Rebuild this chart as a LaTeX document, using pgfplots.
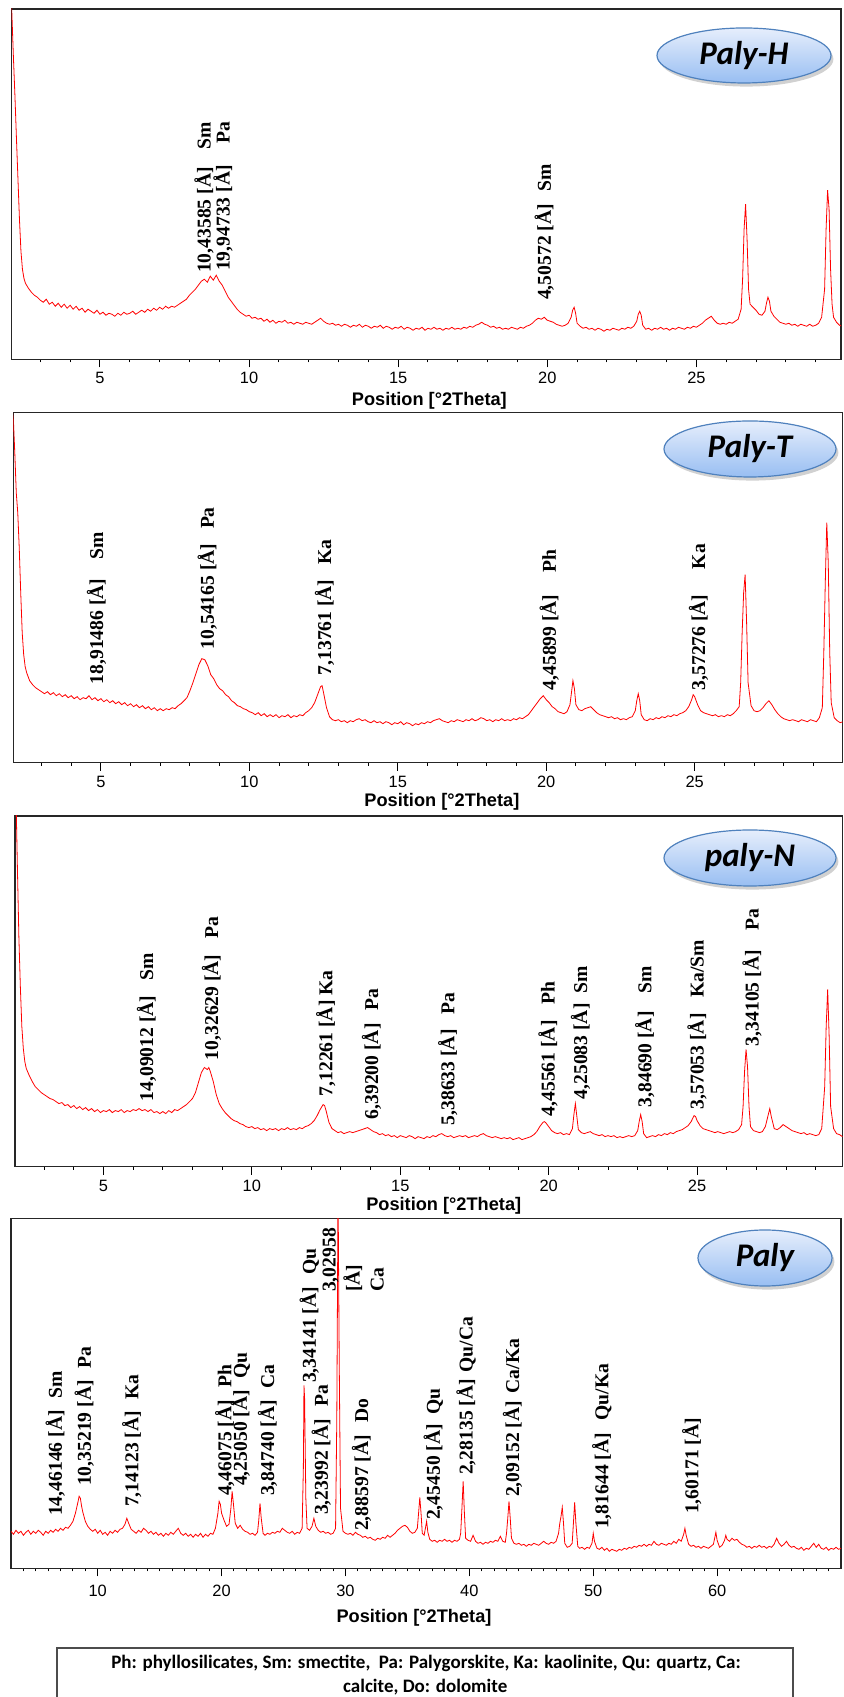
\documentclass[border=0pt]{standalone}
\usepackage{fontspec}
\setmainfont{Liberation Serif}
\newfontfamily\axfont{Liberation Sans}
\newfontfamily\calib{Carlito}
\usepackage{pgfplots}
\pgfplotsset{compat=1.18}
\usetikzlibrary{shadows}

\definecolor{tagline}{RGB}{79,129,189}
\definecolor{tagtop}{RGB}{230,238,252}
\definecolor{tagbot}{RGB}{152,190,242}

% common look of the four diffractograms
\pgfplotsset{xrd/.style={
  scale only axis, anchor=south west,
  ymin=0, ymax=350, ytick=\empty,
  axis line style={black!85, line width=0.7pt},
  tick align=outside, xtick pos=left,
  major tick length=4pt, minor tick length=1.6pt,
  tick style={black, line width=0.5pt},
  /pgf/number format/assume math mode=true,
  xticklabel style={font=\axfont\fontsize{8.2}{9}\selectfont, anchor=center, yshift=-5.5pt},
  xlabel={Position [°2Theta]},
  xlabel style={font=\axfont\bfseries\fontsize{9.1}{10}\selectfont, at={(axis description cs:0.5,0)}, anchor=center},
  cycle list={{red, line width=0.6pt, mark=none}},
}}

% rotated d-spacing annotation
\newcommand\pk[3]{\node[rotate=90, anchor=west, inner sep=0pt, font=\bfseries\fontsize{9.8}{12}\selectfont] at (axis cs:#1,#2) {#3};}
% sample name in a shaded ellipse
\newcommand\sampletag[5]{%
  \path[drop shadow={shadow xshift=1.2pt, shadow yshift=-1.8pt, opacity=0.3, fill=black!60},
        top color=tagtop, bottom color=tagbot, draw=tagline, line width=0.6pt]
        (#1,#2) ellipse [x radius=#3, y radius=#4];
  \node[font=\calib\bfseries\itshape\fontsize{16.5}{16.5}\selectfont] at (#1,#2) {#5};}

\begin{document}
\begin{tikzpicture}
\path[use as bounding box] (0,0) rectangle (421.5pt,848.5pt);

% ---------------- Paly-H ----------------
\begin{axis}[xrd, at={(5.85pt,668.85pt)}, width=414.65pt, height=175.15pt,
  xmin=2.04, xmax=29.85, xtick={5,10,15,20,25}, minor xtick={3,4,...,29},
  xlabel style={yshift=-21pt, xshift=1.5pt}]
\addplot coordinates {
(2.0,360) (2.04,350) (2.1,300) (2.15,262) (2.2,220) (2.25,180) (2.3,140) (2.35,108) (2.4,90) (2.45,81) (2.5,76) (2.6,71) (2.7,67) (2.8,64) (2.9,62)
(3.0,59) (3.1,57) (3.2,60) (3.3,55) (3.4,57) (3.5,53) (3.6,56) (3.7,52) (3.8,55) (3.9,51) (4.0,54) (4.1,50) (4.2,53) (4.3,49) (4.4,51) (4.5,47) (4.6,50) (4.7,48) (4.8,46) (4.9,49)
(5.0,45) (5.1,47) (5.2,44) (5.3,46) (5.4,45) (5.5,43) (5.6,46) (5.7,44) (5.8,47) (5.9,45) (6.0,46) (6.1,48) (6.2,45) (6.3,47) (6.4,49) (6.5,47) (6.6,50) (6.7,48) (6.8,51) (6.9,49)
(7.0,52) (7.1,50) (7.2,53) (7.3,51) (7.4,53) (7.5,52) (7.6,54) (7.7,56) (7.8,58) (7.9,60) (8.0,64) (8.1,67) (8.2,70) (8.3,74) (8.4,78) (8.5,80) (8.6,77) (8.7,83) (8.8,79) (8.9,84)
(9.0,78) (9.1,74) (9.2,68) (9.3,62) (9.4,58) (9.5,54) (9.6,50) (9.7,47) (9.8,45) (9.9,43) (10.0,44) (10.1,41) (10.2,42) (10.3,40) (10.4,41) (10.5,38) (10.6,40) (10.7,37) (10.8,39) (10.9,36)
(11.0,38) (11.1,37) (11.2,39) (11.3,36) (11.4,37) (11.5,35) (11.6,37) (11.7,36) (11.8,35) (11.9,37) (12.0,36) (12.1,35) (12.2,37) (12.3,39) (12.4,41) (12.5,38) (12.6,36) (12.7,35) (12.8,36) (12.9,34)
(13.0,35) (13.1,33) (13.2,35) (13.3,34) (13.4,32) (13.5,34) (13.6,33) (13.7,35) (13.8,32) (13.9,34) (14.0,33) (14.1,31) (14.2,33) (14.3,32) (14.4,34) (14.5,31) (14.6,33) (14.7,32) (14.8,30) (14.9,32)
(15.0,31) (15.1,33) (15.2,30) (15.3,32) (15.4,31) (15.5,29) (15.6,31) (15.7,30) (15.8,32) (15.9,29) (16.0,31) (16.1,30) (16.2,32) (16.3,30) (16.4,31) (16.5,29) (16.6,31) (16.7,30) (16.8,32) (16.9,30)
(17.0,31) (17.1,30) (17.2,32) (17.3,31) (17.4,33) (17.5,32) (17.6,34) (17.7,35) (17.8,37) (17.9,35) (18.0,34) (18.1,32) (18.2,33) (18.3,31) (18.4,32) (18.5,30) (18.6,31) (18.7,30) (18.8,32) (18.9,31)
(19.0,30) (19.1,32) (19.2,31) (19.3,33) (19.4,34) (19.5,36) (19.6,39) (19.7,41) (19.8,40) (19.9,42) (20.0,39) (20.1,38) (20.2,37) (20.3,35) (20.4,34) (20.5,33) (20.6,34) (20.7,36) (20.8,42) (20.85,49) (20.9,52) (20.95,46)
(21.0,36) (21.1,33) (21.2,31) (21.3,32) (21.4,30) (21.5,31) (21.6,29) (21.7,31) (21.8,30) (21.9,28) (22.0,30) (22.1,29) (22.2,31) (22.3,30) (22.4,29) (22.5,31) (22.6,30) (22.7,32) (22.8,31) (22.9,33)
(23.0,38) (23.05,45) (23.1,48) (23.15,44) (23.2,34) (23.3,30) (23.4,31) (23.5,29) (23.6,31) (23.7,30) (23.8,32) (23.9,30) (24.0,31) (24.1,29) (24.2,31) (24.3,30) (24.4,32) (24.5,31) (24.6,30) (24.7,32) (24.8,31) (24.9,33)
(25.0,32) (25.1,34) (25.2,36) (25.3,39) (25.4,41) (25.5,43) (25.6,39) (25.7,36) (25.8,35) (25.9,36) (26.0,35) (26.1,37) (26.2,36) (26.3,38) (26.4,40) (26.5,50) (26.55,80) (26.6,130) (26.65,155) (26.7,120) (26.75,70) (26.8,55) (26.9,52)
(27.0,49) (27.1,45) (27.2,44) (27.3,48) (27.35,56) (27.4,62) (27.45,58) (27.5,48) (27.6,43) (27.7,40) (27.8,37) (27.9,36) (28.0,35) (28.1,36) (28.2,34) (28.3,35) (28.4,33) (28.5,35) (28.6,34) (28.7,33) (28.8,35) (28.9,33)
(29.0,34) (29.1,36) (29.2,42) (29.3,70) (29.35,130) (29.4,169) (29.45,150) (29.5,90) (29.55,55) (29.6,42) (29.7,37) (29.8,34) (29.9,33)
};
\pk{8.49}{86}{10,43585 [Å]\hspace{0.9em}Sm}
\pk{9.13}{88}{19,94733 [Å]\hspace{1.1em}Pa}
\pk{19.9}{59}{4,50572 [Å]\hspace{0.65em}Sm}
\end{axis}

% ---------------- Paly-T ----------------
\begin{axis}[xrd, at={(6.65pt,467.15pt)}, width=414.6pt, height=175pt,
  xmin=2.05, xmax=29.98, xtick={5,10,15,20,25}, minor xtick={3,4,...,29},
  xlabel style={yshift=-19.5pt, xshift=7pt}]
\addplot coordinates {
(2.0,360) (2.05,345) (2.1,310) (2.15,270) (2.2,250) (2.25,215) (2.3,170) (2.35,130) (2.4,108) (2.45,96) (2.5,90) (2.6,82) (2.7,78) (2.8,75) (2.9,73)
(3.0,71) (3.1,69) (3.2,71) (3.3,68) (3.4,70) (3.5,67) (3.6,69) (3.7,66) (3.8,68) (3.9,65) (4.0,67) (4.1,64) (4.2,66) (4.3,63) (4.4,65) (4.5,64) (4.6,67) (4.7,63) (4.8,65) (4.9,62)
(5.0,64) (5.1,61) (5.2,63) (5.3,60) (5.4,62) (5.5,59) (5.6,61) (5.7,58) (5.8,60) (5.9,57) (6.0,59) (6.1,56) (6.2,58) (6.3,55) (6.4,57) (6.5,54) (6.6,56) (6.7,53) (6.8,55) (6.9,52)
(7.0,54) (7.1,52) (7.2,54) (7.3,53) (7.4,55) (7.5,54) (7.6,57) (7.7,59) (7.8,62) (7.9,65) (8.0,72) (8.1,80) (8.2,89) (8.3,98) (8.4,104) (8.5,103) (8.6,97) (8.7,88) (8.8,84) (8.9,78)
(9.0,74) (9.1,72) (9.2,68) (9.3,66) (9.4,62) (9.5,60) (9.6,57) (9.7,56) (9.8,54) (9.9,53) (10.0,51) (10.1,50) (10.2,48) (10.3,50) (10.4,47) (10.5,49) (10.6,46) (10.7,48) (10.8,46) (10.9,48)
(11.0,45) (11.1,47) (11.2,46) (11.3,48) (11.4,45) (11.5,47) (11.6,46) (11.7,48) (11.8,47) (11.9,50) (12.0,52) (12.1,55) (12.2,60) (12.3,68) (12.4,76) (12.45,77) (12.5,70) (12.6,55) (12.7,46) (12.8,43) (12.9,42)
(13.0,43) (13.1,41) (13.2,42) (13.3,40) (13.4,42) (13.5,41) (13.6,43) (13.7,44) (13.8,42) (13.9,43) (14.0,41) (14.1,40) (14.2,42) (14.3,40) (14.4,41) (14.5,39) (14.6,41) (14.7,40) (14.8,38) (14.9,40)
(15.0,39) (15.1,41) (15.2,38) (15.3,40) (15.4,39) (15.5,37) (15.6,39) (15.7,38) (15.8,40) (15.9,39) (16.0,41) (16.1,40) (16.2,42) (16.3,43) (16.4,44) (16.5,42) (16.6,41) (16.7,40) (16.8,42) (16.9,41)
(17.0,43) (17.1,42) (17.2,41) (17.3,43) (17.4,42) (17.5,44) (17.6,42) (17.7,43) (17.8,45) (17.9,44) (18.0,42) (18.1,43) (18.2,41) (18.3,43) (18.4,42) (18.5,44) (18.6,42) (18.7,43) (18.8,42) (18.9,44)
(19.0,43) (19.1,45) (19.2,44) (19.3,46) (19.4,48) (19.5,52) (19.6,56) (19.7,60) (19.8,64) (19.9,67) (20.0,63) (20.1,60) (20.2,56) (20.3,54) (20.4,51) (20.5,50) (20.6,49) (20.7,51) (20.8,58) (20.85,70) (20.9,82) (20.95,74)
(21.0,58) (21.1,53) (21.2,52) (21.3,54) (21.4,55) (21.5,56) (21.6,53) (21.7,50) (21.8,48) (21.9,47) (22.0,46) (22.1,45) (22.2,46) (22.3,44) (22.4,45) (22.5,43) (22.6,44) (22.7,43) (22.8,45) (22.9,46)
(23.0,52) (23.05,62) (23.1,69) (23.15,62) (23.2,48) (23.3,43) (23.4,42) (23.5,44) (23.6,43) (23.7,45) (23.8,44) (23.9,46) (24.0,45) (24.1,47) (24.2,46) (24.3,48) (24.4,47) (24.5,49) (24.6,50) (24.7,52) (24.8,56) (24.9,63) (24.95,68)
(25.0,66) (25.1,58) (25.2,52) (25.3,50) (25.4,49) (25.5,48) (25.6,47) (25.7,48) (25.8,46) (25.9,47) (26.0,46) (26.1,48) (26.2,47) (26.3,49) (26.4,52) (26.5,56) (26.55,80) (26.6,130) (26.65,170) (26.7,188) (26.75,140) (26.8,80) (26.9,57)
(27.0,52) (27.1,51) (27.2,52) (27.3,55) (27.4,59) (27.5,62) (27.6,58) (27.7,53) (27.8,49) (27.9,46) (28.0,44) (28.1,43) (28.2,42) (28.3,43) (28.4,42) (28.5,41) (28.6,43) (28.7,42) (28.8,41) (28.9,43)
(29.0,42) (29.1,41) (29.2,45) (29.3,55) (29.35,110) (29.4,180) (29.45,240) (29.5,200) (29.55,110) (29.6,60) (29.7,45) (29.8,42) (29.9,40) (30.0,41)
};
\pk{4.85}{78}{18,91486 [Å]\hspace{1em}Sm}
\pk{8.58}{113}{10,54165 [Å]\hspace{0.75em}Pa}
\pk{12.53}{87}{7,13761 [Å]\hspace{0.75em}Ka}
\pk{20.1}{72}{4,45899 [Å]\hspace{1.1em}Ph}
\pk{25.13}{72}{3,57276 [Å]\hspace{1.3em}Ka}
\end{axis}

% ---------------- paly-N ----------------
\begin{axis}[xrd, at={(7.5pt,265.15pt)}, width=413.75pt, height=175.35pt,
  xmin=2.02, xmax=29.9, xtick={5,10,15,20,25}, minor xtick={3,4,...,29},
  xlabel style={yshift=-19.5pt, xshift=7.5pt}]
\addplot coordinates {
(2.0,370) (2.06,360) (2.1,300) (2.15,230) (2.2,180) (2.25,140) (2.3,118) (2.35,105) (2.4,98) (2.5,91) (2.6,85) (2.7,80) (2.8,77) (2.9,74)
(3.0,72) (3.1,70) (3.2,68) (3.3,67) (3.4,65) (3.5,63) (3.6,64) (3.7,61) (3.8,62) (3.9,59) (4.0,61) (4.1,58) (4.2,60) (4.3,57) (4.4,59) (4.5,56) (4.6,58) (4.7,55) (4.8,57) (4.9,54)
(5.0,56) (5.1,55) (5.2,57) (5.3,54) (5.4,56) (5.5,55) (5.6,57) (5.7,54) (5.8,56) (5.9,55) (6.0,57) (6.1,56) (6.2,58) (6.3,56) (6.4,57) (6.5,55) (6.6,57) (6.7,54) (6.8,55) (6.9,53)
(7.0,55) (7.1,53) (7.2,56) (7.3,54) (7.4,57) (7.5,56) (7.6,58) (7.7,60) (7.8,62) (7.9,65) (8.0,68) (8.1,74) (8.2,84) (8.3,94) (8.4,99) (8.5,97) (8.55,99) (8.6,95) (8.7,85) (8.8,72) (8.9,63)
(9.0,58) (9.1,54) (9.2,51) (9.3,48) (9.4,46) (9.5,45) (9.6,43) (9.7,42) (9.8,40) (9.9,39) (10.0,40) (10.1,38) (10.2,39) (10.3,37) (10.4,38) (10.5,36) (10.6,38) (10.7,37) (10.8,38) (10.9,36)
(11.0,38) (11.1,37) (11.2,39) (11.3,37) (11.4,38) (11.5,37) (11.6,39) (11.7,38) (11.8,40) (11.9,41) (12.0,43) (12.1,46) (12.2,51) (12.3,57) (12.4,62) (12.45,61) (12.5,56) (12.6,44) (12.7,38) (12.8,36) (12.9,34)
(13.0,35) (13.1,33) (13.2,34) (13.3,35) (13.4,34) (13.5,35) (13.6,36) (13.7,37) (13.8,38) (13.9,39) (14.0,37) (14.1,35) (14.2,34) (14.3,32) (14.4,33) (14.5,31) (14.6,32) (14.7,30) (14.8,31) (14.9,29)
(15.0,31) (15.1,30) (15.2,29) (15.3,31) (15.4,30) (15.5,28) (15.6,30) (15.7,29) (15.8,28) (15.9,30) (16.0,29) (16.1,31) (16.2,30) (16.3,32) (16.4,33) (16.5,31) (16.6,30) (16.7,31) (16.8,29) (16.9,30)
(17.0,31) (17.1,30) (17.2,31) (17.3,29) (17.4,30) (17.5,31) (17.6,30) (17.7,32) (17.8,33) (17.9,31) (18.0,30) (18.1,29) (18.2,30) (18.3,29) (18.4,28) (18.5,29) (18.6,28) (18.7,29) (18.8,27) (18.9,28)
(19.0,29) (19.1,27) (19.2,28) (19.3,29) (19.4,30) (19.5,32) (19.6,35) (19.7,40) (19.8,44) (19.85,45) (19.9,44) (20.0,40) (20.1,36) (20.2,34) (20.3,33) (20.4,34) (20.5,32) (20.6,33) (20.7,32) (20.8,38) (20.85,52) (20.9,63) (20.95,50)
(21.0,37) (21.1,34) (21.2,33) (21.3,34) (21.4,35) (21.5,33) (21.6,32) (21.7,31) (21.8,32) (21.9,30) (22.0,31) (22.1,30) (22.2,31) (22.3,29) (22.4,30) (22.5,29) (22.6,30) (22.7,31) (22.8,30) (22.9,31)
(23.0,36) (23.05,45) (23.1,52) (23.15,45) (23.2,33) (23.3,29) (23.4,30) (23.5,31) (23.6,30) (23.7,32) (23.8,31) (23.9,33) (24.0,32) (24.1,34) (24.2,33) (24.3,35) (24.4,36) (24.5,37) (24.6,39) (24.7,41) (24.8,45) (24.9,51) (24.95,50)
(25.0,46) (25.1,41) (25.2,38) (25.3,37) (25.4,36) (25.5,35) (25.6,34) (25.7,35) (25.8,34) (25.9,33) (26.0,34) (26.1,35) (26.2,34) (26.3,35) (26.4,37) (26.5,42) (26.55,60) (26.6,95) (26.65,117) (26.7,100) (26.75,60) (26.8,40) (26.9,36)
(27.0,35) (27.1,34) (27.2,35) (27.3,40) (27.4,52) (27.45,58) (27.5,50) (27.6,38) (27.7,37) (27.8,39) (27.9,42) (28.0,40) (28.1,38) (28.2,36) (28.3,35) (28.4,34) (28.5,33) (28.6,34) (28.7,32) (28.8,33) (28.9,32)
(29.0,31) (29.1,32) (29.2,38) (29.3,80) (29.35,140) (29.4,177) (29.45,130) (29.5,60) (29.6,38) (29.7,33) (29.8,32) (29.9,30)
};
\pk{6.45}{65}{14,09012 [Å]\hspace{0.75em}Sm}
\pk{8.64}{106}{10,32629 [Å]\hspace{0.8em}Pa}
\pk{12.49}{70}{7,12261 [Å] Ka}
\pk{14.03}{47}{6,39200 [Å]\hspace{0.65em}Pa}
\pk{16.6}{41}{5,38633 [Å]\hspace{0.75em}Pa}
\pk{19.98}{50}{4,45561 [Å]\hspace{0.8em}Ph}
\pk{21.07}{67}{4,25083 [Å]\hspace{0.5em}Sm}
\pk{23.24}{59}{3,84690 [Å]\hspace{0.9em}Sm}
\pk{25.0}{57}{3,57053 [Å]\hspace{0.8em}Ka/Sm}
\pk{26.85}{120}{3,34105 [Å]\hspace{1em}Pa}
\end{axis}

% ---------------- Paly (bulk) ----------------
\begin{axis}[xrd, at={(5.5pt,64.35pt)}, width=415pt, height=175pt,
  xmin=3, xmax=70, xtick={10,20,...,60}, minor xtick={4,5,...,69},
  xticklabel style={yshift=-1.85pt},
  xlabel style={yshift=-24.5pt, xshift=-6pt}]
\addplot coordinates {
(3.0,37) (3.2,34) (3.4,38) (3.6,35) (3.8,37) (4.0,33) (4.2,36) (4.4,38) (4.6,34) (4.8,37) (5.0,35) (5.2,38) (5.4,36) (5.6,33) (5.8,37) (6.0,35) (6.2,38) (6.4,36) (6.6,39) (6.8,37)
(7.0,40) (7.2,38) (7.4,41) (7.6,40) (7.8,43) (8.0,47) (8.2,55) (8.4,66) (8.5,72) (8.6,70) (8.7,62) (8.8,56) (9.0,47) (9.2,42) (9.4,39) (9.6,37) (9.8,39)
(10.0,35) (10.2,38) (10.4,34) (10.6,36) (10.8,33) (11.0,37) (11.2,35) (11.4,38) (11.6,36) (11.8,39) (12.0,40) (12.2,44) (12.35,50) (12.5,45) (12.7,39) (12.9,37)
(13.1,35) (13.3,38) (13.5,36) (13.7,40) (13.9,38) (14.1,35) (14.3,37) (14.5,34) (14.7,36) (14.9,33) (15.1,35) (15.3,32) (15.5,35) (15.7,33) (15.9,36) (16.1,34) (16.3,37) (16.5,40) (16.7,35) (16.9,33)
(17.1,35) (17.3,32) (17.5,34) (17.7,31) (17.9,34) (18.1,32) (18.3,35) (18.5,31) (18.7,34) (18.9,32) (19.1,35) (19.3,34) (19.5,40) (19.7,55) (19.8,67) (19.9,64) (20.0,55) (20.2,48) (20.4,42) (20.6,44)
(20.75,60) (20.85,77) (20.95,65) (21.1,45) (21.3,40) (21.5,43) (21.7,39) (21.9,37) (22.1,36) (22.3,34) (22.5,35) (22.7,33) (22.9,36) (23.0,48) (23.1,65) (23.2,50) (23.35,35) (23.5,33) (23.7,35) (23.9,34)
(24.1,36) (24.3,35) (24.5,37) (24.7,36) (24.9,40) (25.1,38) (25.3,36) (25.5,35) (25.7,37) (25.9,34) (26.1,36) (26.3,35) (26.5,40) (26.6,100) (26.65,183) (26.7,170) (26.8,70) (26.9,40)
(27.1,38) (27.3,42) (27.45,50) (27.6,42) (27.8,38) (28.0,36) (28.2,37) (28.4,35) (28.6,36) (28.8,34) (29.0,35) (29.2,40) (29.3,150) (29.4,380) (29.5,200) (29.6,60) (29.8,37)
(30.0,35) (30.2,34) (30.4,35) (30.6,33) (30.8,36) (31.0,34) (31.2,33) (31.4,31) (31.6,32) (31.8,30) (32.0,31) (32.2,29) (32.4,28) (32.6,30) (32.8,29) (33.0,31) (33.2,30) (33.4,33) (33.6,31) (33.8,33)
(34.0,35) (34.2,38) (34.4,40) (34.6,42) (34.8,43) (35.0,41) (35.2,37) (35.4,35) (35.6,36) (35.8,40) (35.9,55) (36.0,71) (36.1,55) (36.2,35) (36.35,33) (36.45,40) (36.55,47) (36.65,36) (36.8,29)
(37.0,27) (37.2,28) (37.4,26) (37.6,28) (37.8,27) (38.0,29) (38.2,27) (38.4,28) (38.6,26) (38.8,28) (39.0,27) (39.2,29) (39.3,35) (39.4,60) (39.5,87) (39.6,55) (39.7,30) (39.9,28)
(40.1,27) (40.3,33) (40.5,27) (40.7,25) (40.9,26) (41.1,24) (41.3,26) (41.5,25) (41.7,27) (41.9,26) (42.1,28) (42.3,27) (42.5,32) (42.7,27) (42.9,26) (43.0,35) (43.1,50) (43.2,67) (43.3,50) (43.4,30)
(43.6,25) (43.8,24) (44.0,25) (44.2,23) (44.4,24) (44.6,22) (44.8,24) (45.0,23) (45.2,25) (45.4,24) (45.6,23) (45.8,25) (46.0,27) (46.2,25) (46.4,24) (46.6,26) (46.8,25) (47.0,27) (47.2,35) (47.3,45)
(47.4,52) (47.5,61) (47.6,45) (47.7,25) (47.9,21) (48.1,22) (48.3,25) (48.4,45) (48.5,66) (48.6,45) (48.75,22) (48.9,20) (49.1,21) (49.3,19) (49.5,21) (49.7,20) (49.9,25) (50.0,35) (50.1,27) (50.3,20)
(50.5,19) (50.7,21) (50.9,18) (51.1,20) (51.3,17) (51.5,19) (51.7,18) (51.9,17) (52.1,19) (52.3,18) (52.5,20) (52.7,19) (52.9,21) (53.1,20) (53.3,22) (53.5,21) (53.7,23) (53.9,22) (54.1,24) (54.3,22)
(54.5,24) (54.7,23) (54.9,27) (55.1,24) (55.3,23) (55.5,25) (55.7,24) (55.9,23) (56.1,25) (56.3,24) (56.5,27) (56.7,25) (56.9,29) (57.1,27) (57.3,34) (57.4,40) (57.5,33) (57.7,24) (57.9,22) (58.1,23)
(58.3,21) (58.5,22) (58.7,20) (58.9,22) (59.1,21) (59.3,20) (59.5,22) (59.7,24) (59.8,30) (59.9,36) (60.0,28) (60.2,21) (60.4,23) (60.6,28) (60.7,33) (60.8,29) (61.0,27) (61.2,30) (61.4,28) (61.6,29)
(61.8,26) (62.0,24) (62.2,23) (62.4,21) (62.6,22) (62.8,20) (63.0,22) (63.2,21) (63.4,23) (63.6,21) (63.8,22) (64.0,20) (64.2,22) (64.4,21) (64.6,24) (64.8,30) (65.0,25) (65.2,22) (65.4,24) (65.6,27)
(65.8,23) (66.0,21) (66.2,22) (66.4,20) (66.6,19) (66.8,21) (67.0,18) (67.2,20) (67.4,19) (67.6,22) (67.8,25) (68.0,21) (68.2,24) (68.4,20) (68.6,19) (68.8,21) (69.0,18) (69.2,20) (69.4,19) (69.6,21) (69.8,19) (70.0,20)
};
\pk{6.57}{52}{14,46146 [Å]\hspace{0.6em}Sm}
\pk{8.91}{82}{10,35219 [Å]\hspace{0.6em}Pa}
\pk{12.74}{61}{7,14123 [Å]\hspace{0.6em}Ka}
\pk{20.26}{72}{4,46075 [Å]\hspace{0.65em}Ph}
\pk{21.52}{82}{4,25050 [Å]\hspace{0.6em}Qu}
\pk{23.7}{72}{3,84740 [Å]\hspace{0.6em}Ca}
\pk{27.09}{185}{3,34141 [Å]\hspace{0.65em}Qu}
\pk{28.04}{53}{3,23992 [Å]\hspace{0.65em}Pa}
\node[rotate=90, anchor=west, inner sep=0pt, align=left, font=\bfseries\fontsize{9.8}{12}\selectfont] at (axis cs:30.63,276) {3,02958\\{[Å]}\\Ca};
\pk{31.3}{37}{2,88597 [Å]\hspace{0.65em}Do}
\pk{37.09}{48}{2,45450 [Å]\hspace{0.5em}Qu}
\pk{39.74}{93}{2,28135 [Å]\hspace{0.35em}Qu/Ca}
\pk{43.48}{71}{2,09152 [Å]\hspace{0.4em}Ca/Ka}
\pk{50.7}{39}{1,81644 [Å]\hspace{0.65em}Qu/Ka}
\pk{57.96}{54}{1,60171 [Å]}
\end{axis}

% sample names
\sampletag{372pt}{820.75pt}{43.5pt}{13.75pt}{Paly-H}
\sampletag{375pt}{624pt}{43pt}{14pt}{Paly-T}
\sampletag{375pt}{419.5pt}{43pt}{14pt}{paly-N}
\sampletag{382.5pt}{219.5pt}{33.5pt}{14pt}{Paly}

% key to the mineral abbreviations
\draw[black!70, line width=0.6pt] (28.5pt,-5pt) rectangle (396.5pt,24.5pt);
\node[anchor=base, inner sep=0pt, font=\calib\bfseries\fontsize{9.5}{11}\selectfont] at (213pt,14.35pt)
  {Ph: phyllosilicates, Sm: smectite,\ \ Pa: Palygorskite, Ka: kaolinite, Qu: quartz, Ca:};
\node[anchor=base, inner sep=0pt, font=\calib\bfseries\fontsize{9.5}{11}\selectfont] at (212.6pt,2pt)
  {calcite, Do: dolomite};
\end{tikzpicture}
\end{document}
